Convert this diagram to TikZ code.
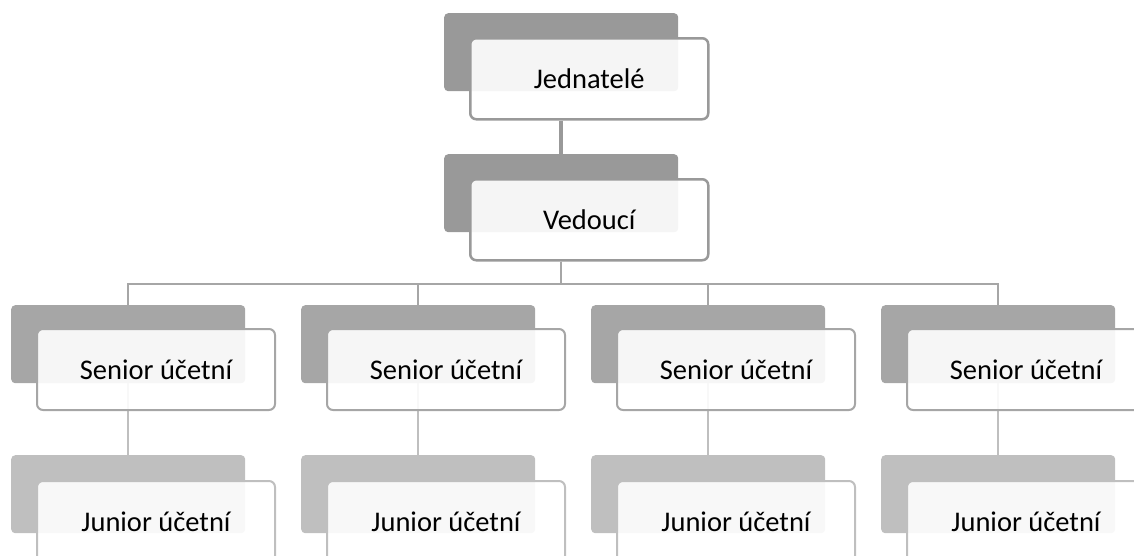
\documentclass[tikz,border=0pt]{standalone}
\usepackage{fontspec}
\setmainfont{Carlito}
\usetikzlibrary{positioning, calc, backgrounds}
\definecolor{topgray}{RGB}{153,153,153}
\definecolor{midgray}{RGB}{166,166,166}
\definecolor{lowgray}{RGB}{191,191,191}
\tikzset{
  backbox/.style={draw=none, rounded corners=4pt, minimum width=234pt,
    minimum height=78pt, inner sep=0pt, anchor=north west},
  frontbox/.style={rounded corners=6pt, fill=white, fill opacity=0.9,
    text opacity=1, minimum width=238pt, minimum height=81pt, inner sep=0pt,
    anchor=north west, font=\fontsize{28.5}{34}\selectfont,
    text height=19pt, text depth=0pt},
  toplink/.style={draw=topgray, line width=4pt},
  buslink/.style={draw=midgray, line width=2pt},
  sublink/.style={draw=lowgray, line width=2pt},
}

\begin{document}
\begin{tikzpicture}[x=1pt, y=-1pt]
  \useasboundingbox (0,0) rectangle (1134,555);
  % management
  \node[backbox, fill=topgray] (jedB) at (444,13) {};
  \node[frontbox, draw=topgray, line width=2.5pt] (jed) at (469,37) {Jednatelé};
  \node[backbox, fill=topgray] (vedB) at (444,154) {};
  \node[frontbox, draw=topgray, line width=2.5pt] (ved) at (469,178) {Vedoucí};
  % accountants, one column each
  \foreach \n in {1,...,4} {
    \pgfmathsetmacro{\x}{11+(\n-1)*290}
    \node[backbox, fill=midgray] (senB\n) at (\x,305) {};
    \node[frontbox, draw=midgray, line width=2pt] (sen\n) at (\x+25,328) {Senior účetní};
    \node[backbox, fill=lowgray] (junB\n) at (\x,455) {};
    \node[frontbox, draw=lowgray, line width=2pt] (jun\n) at (\x+25,480) {Junior účetní};
  }
  \begin{pgfonlayer}{background}
    \draw[toplink] (jed.south -| jedB.south) -- (vedB.north);
    \foreach \n in {1,...,4} {
      \draw[buslink] (ved.south -| vedB.south) -- ++(0,22) -| (senB\n.north);
      \draw[sublink] (senB\n.south) -- (junB\n.north);
    }
  \end{pgfonlayer}
\end{tikzpicture}
\end{document}
